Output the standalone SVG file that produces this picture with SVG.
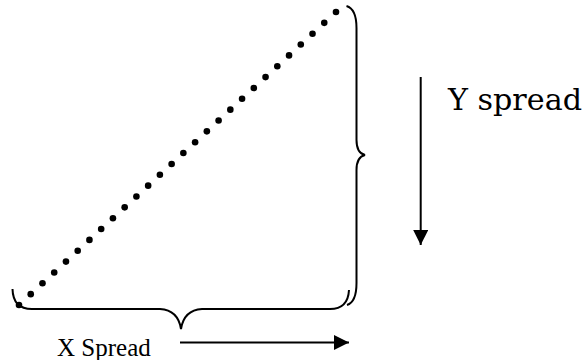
<svg xmlns="http://www.w3.org/2000/svg" width="586" height="360" viewBox="0 0 586 360">
<style>
.br{fill:none;stroke:#000;stroke-width:2}
.ln{stroke:#000;stroke-width:2}
.dot{fill:#000}
</style>
<defs>
<marker id="ah" markerWidth="15" markerHeight="15" refX="15" refY="7.5" orient="auto" markerUnits="userSpaceOnUse">
<path d="M0,0 L15,7.5 L0,15 Z" fill="#000"/>
</marker>
</defs>
<rect width="586" height="360" fill="#fff"/>
<g id="dots">
<circle class="dot" cx="19" cy="305" r="3.3"/>
<circle class="dot" cx="30.74" cy="294.15" r="3.3"/>
<circle class="dot" cx="42.48" cy="283.3" r="3.3"/>
<circle class="dot" cx="54.22" cy="272.44" r="3.3"/>
<circle class="dot" cx="65.96" cy="261.59" r="3.3"/>
<circle class="dot" cx="77.7" cy="250.74" r="3.3"/>
<circle class="dot" cx="89.44" cy="239.89" r="3.3"/>
<circle class="dot" cx="101.19" cy="229.04" r="3.3"/>
<circle class="dot" cx="112.93" cy="218.19" r="3.3"/>
<circle class="dot" cx="124.67" cy="207.33" r="3.3"/>
<circle class="dot" cx="136.41" cy="196.48" r="3.3"/>
<circle class="dot" cx="148.15" cy="185.63" r="3.3"/>
<circle class="dot" cx="159.89" cy="174.78" r="3.3"/>
<circle class="dot" cx="171.63" cy="163.93" r="3.3"/>
<circle class="dot" cx="183.37" cy="153.07" r="3.3"/>
<circle class="dot" cx="195.11" cy="142.22" r="3.3"/>
<circle class="dot" cx="206.85" cy="131.37" r="3.3"/>
<circle class="dot" cx="218.59" cy="120.52" r="3.3"/>
<circle class="dot" cx="230.33" cy="109.67" r="3.3"/>
<circle class="dot" cx="242.07" cy="98.81" r="3.3"/>
<circle class="dot" cx="253.81" cy="87.96" r="3.3"/>
<circle class="dot" cx="265.56" cy="77.11" r="3.3"/>
<circle class="dot" cx="277.3" cy="66.26" r="3.3"/>
<circle class="dot" cx="289.04" cy="55.41" r="3.3"/>
<circle class="dot" cx="300.78" cy="44.56" r="3.3"/>
<circle class="dot" cx="312.52" cy="33.7" r="3.3"/>
<circle class="dot" cx="324.26" cy="22.85" r="3.3"/>
<circle class="dot" cx="336" cy="12" r="3.3"/>
</g>
<g id="y-brace">
<path class="br" d="M346.5,6 Q356.5,9 356.5,28 L356.5,140 Q356.5,153 365,155 Q356.5,157 356.5,170 L356.5,283 Q356.5,302 347,305"/>
</g>
<g id="x-brace">
<path class="br" d="M12.5,289 Q13,309 32,309 L160,309 Q178,310 181,329 Q184,310 202,309 L330,309 Q348,309 349,290"/>
</g>
<g id="connectors">
<line class="ln" x1="420.7" y1="77" x2="420.7" y2="245" marker-end="url(#ah)"/>
<line class="ln" x1="180" y1="342.5" x2="349" y2="342.5" marker-end="url(#ah)"/>
</g>
<g id="labels">
<text x="448" y="110" font-family="DejaVu Serif, serif" font-size="29" textLength="134" lengthAdjust="spacingAndGlyphs">Y spread</text>
<text x="57" y="356" font-family="Liberation Serif, serif" font-size="25">X Spread</text>
</g>
</svg>
